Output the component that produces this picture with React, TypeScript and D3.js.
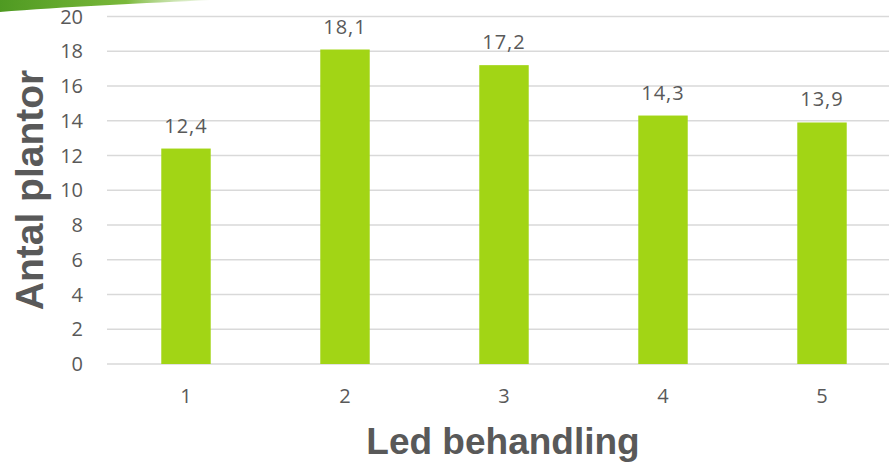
import React from "react";
import * as d3 from "d3";

const categories = ["1", "2", "3", "4", "5"];
const values = [12.4, 18.1, 17.2, 14.3, 13.9];
const valueLabels = ["12,4", "18,1", "17,2", "14,3", "13,9"];
const yTicks = [0, 2, 4, 6, 8, 10, 12, 14, 16, 18, 20];
const xTitle = "Led behandling";
const yTitle = "Antal plantor";

const W = 889;
const H = 462;

export default function App() {
  const x = d3
    .scaleBand<string>()
    .domain(categories)
    .range([106.5, 901.5])
    .paddingInner(0.689)
    .paddingOuter(0.3445);
  const y = d3.scaleLinear().domain([0, 20]).range([364, 16.5]);
  const textColor = "#595959";
  const tickFont = "'Open Sans', 'Noto Sans', sans-serif";

  return (
    <svg
      width={W}
      height={H}
      style={{ position: "absolute", left: 0, top: 0, background: "#fff" }}
    >
      <defs>
        <linearGradient id="swoosh" x1="0" y1="0" x2="1" y2="0">
          <stop offset="0" stopColor="#4f9a22" />
          <stop offset="0.6" stopColor="#7ab83a" />
          <stop offset="1" stopColor="#c8e3a8" stopOpacity="0.3" />
        </linearGradient>
      </defs>
      <path
        d="M0,0 L210,0 C150,3 60,7 0,12 Z"
        fill="url(#swoosh)"
      />
      {yTicks.map((t) => (
        <g key={t}>
          <line
            x1={107}
            x2={W}
            y1={y(t)}
            y2={y(t)}
            stroke="#d9d9d9"
            strokeWidth={1.5}
          />
          <text
            x={83}
            y={y(t)}
            dy="0.36em"
            textAnchor="end"
            fontFamily={tickFont}
            fontSize={20}
            fill={textColor}
          >
            {t}
          </text>
        </g>
      ))}
      {categories.map((c, i) => (
        <g key={c}>
          <rect
            x={x(c)}
            y={y(values[i])}
            width={x.bandwidth()}
            height={y(0) - y(values[i])}
            fill="#a2d515"
          />
          <text
            x={(x(c) as number) + x.bandwidth() / 2}
            y={y(values[i]) - 16}
            textAnchor="middle"
            fontFamily={tickFont}
            fontSize={20}
            letterSpacing={1}
            fill={textColor}
          >
            {valueLabels[i]}
          </text>
          <text
            x={(x(c) as number) + x.bandwidth() / 2}
            y={403}
            textAnchor="middle"
            fontFamily={tickFont}
            fontSize={20}
            fill={textColor}
          >
            {c}
          </text>
        </g>
      ))}
      <text
        x={503}
        y={454}
        textAnchor="middle"
        fontFamily="'Liberation Sans', Arial, sans-serif"
        fontWeight="bold"
        fontSize={37}
        fill={textColor}
      >
        {xTitle}
      </text>
      <text
        transform="translate(43,190) rotate(-90)"
        textAnchor="middle"
        fontFamily="'Liberation Sans', Arial, sans-serif"
        fontWeight="bold"
        fontSize={39}
        fill={textColor}
      >
        {yTitle}
      </text>
    </svg>
  );
}
